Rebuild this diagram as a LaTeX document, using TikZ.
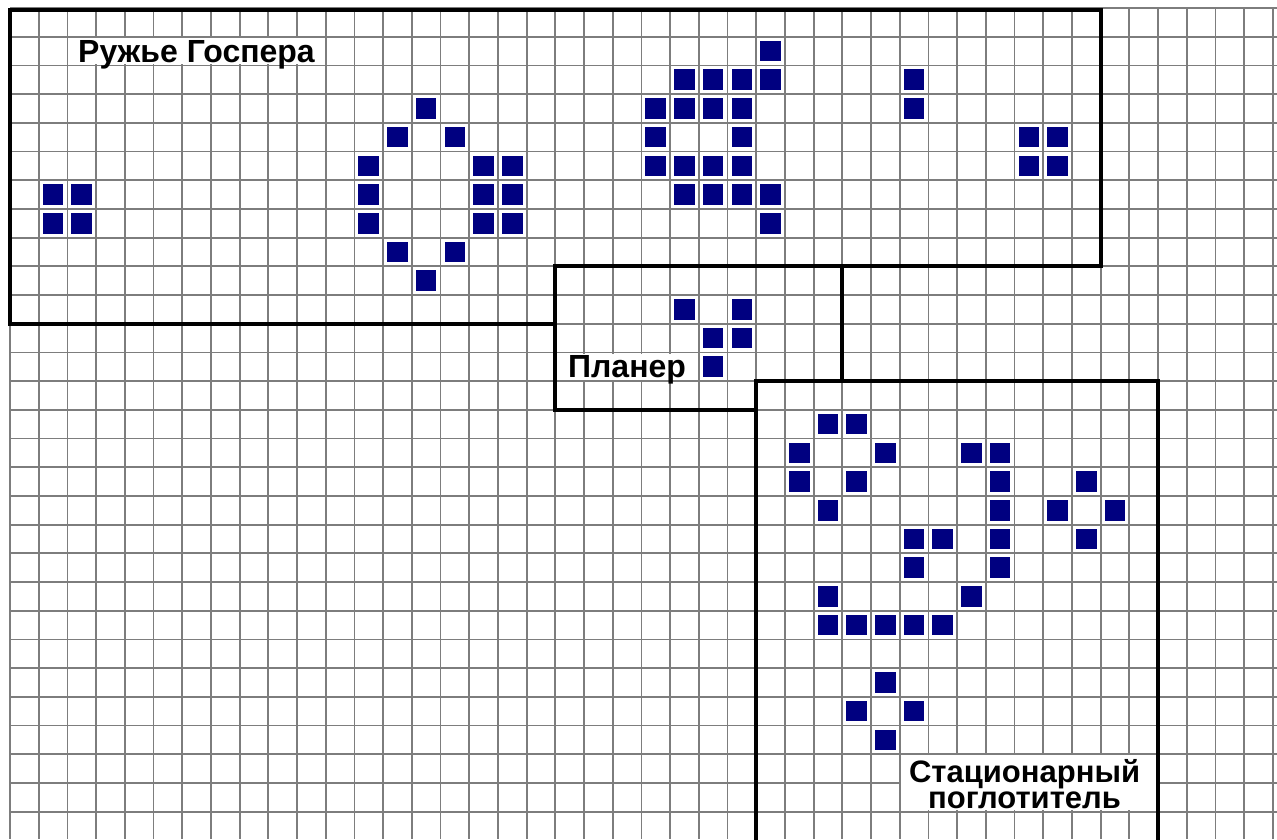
\documentclass[tikz,border=0pt]{standalone}
\usepackage{fontspec}
\setmainfont{Liberation Sans}
\definecolor{cellblue}{RGB}{0,0,128}
\definecolor{gridgray}{RGB}{125,125,125}
\tikzset{
  gridline/.style={draw=gridgray, line width=1.8pt},
  framebox/.style={draw=black, line width=4pt, line join=miter},
  live/.style={fill=cellblue},
  lbl/.style={font=\fontsize{32}{32}\selectfont\bfseries, inner sep=0pt, text=black},
  lblsmall/.style={lbl, font=\fontsize{31}{26}\selectfont\bfseries, align=center},
  blank/.style={fill=white}
}
\begin{document}
\begin{tikzpicture}[x=28.7pt,y=-28.7pt]
\useasboundingbox[fill=white] (-0.34843,-0.27875) rectangle (44.1463,28.9547);
% grid
\foreach \i in {0,...,44} \draw[gridline] (\i,0) -- (\i,28.9547);
\foreach \j in {0,...,28} \draw[gridline] (0,\j) -- (44.1463,\j);
% blank areas under labels
\fill[blank] (2.04,1.04) rectangle (10.96,1.96);
\fill[blank] (19.04,12.04) rectangle (23.96,12.96);
\fill[blank] (31.04,26.04) rectangle (39.96,27.96);
% live cells
\foreach \c/\r in {1/6,2/6,1/7,2/7,
  14/3,13/4,15/4,12/5,12/6,12/7,13/8,15/8,14/9,16/5,17/5,16/6,17/6,16/7,17/7,
  26/1,23/2,24/2,25/2,26/2,22/3,23/3,24/3,25/3,22/4,25/4,22/5,23/5,24/5,25/5,23/6,24/6,25/6,26/6,26/7,
  31/2,31/3,35/4,36/4,35/5,36/5,
  23/10,25/10,24/11,25/11,24/12,
  28/14,29/14,27/15,30/15,33/15,34/15,27/16,29/16,34/16,28/17,34/17,31/18,32/18,34/18,31/19,34/19,28/20,33/20,28/21,29/21,30/21,31/21,32/21,
  37/16,36/17,38/17,37/18,
  30/23,29/24,31/24,30/25}
  \fill[live] (\c+0.14,\r+0.14) rectangle (\c+0.86,\r+0.86);
% frames
\draw[framebox] (0,0.07) -- (38,0.07) -- (38,9) -- (19,9) -- (19,11) -- (0,11) -- cycle;
\draw[framebox] (19,9) -- (29,9) -- (29,13) -- (26,13) -- (26,14) -- (19,14) -- cycle;
\draw[framebox] (26,29.5) -- (26,13) -- (40,13) -- (40,29.5);
% labels
\node[lbl, anchor=base west] (gun) at (2.37,1.90) {Ружье Госпера};
\node[lbl, anchor=base west] (glider) at (19.44,12.89) {Планер};
\node[lblsmall, anchor=south] (eater) at (35.35,27.92) {Стационарный\\поглотитель};
\end{tikzpicture}
\end{document}
